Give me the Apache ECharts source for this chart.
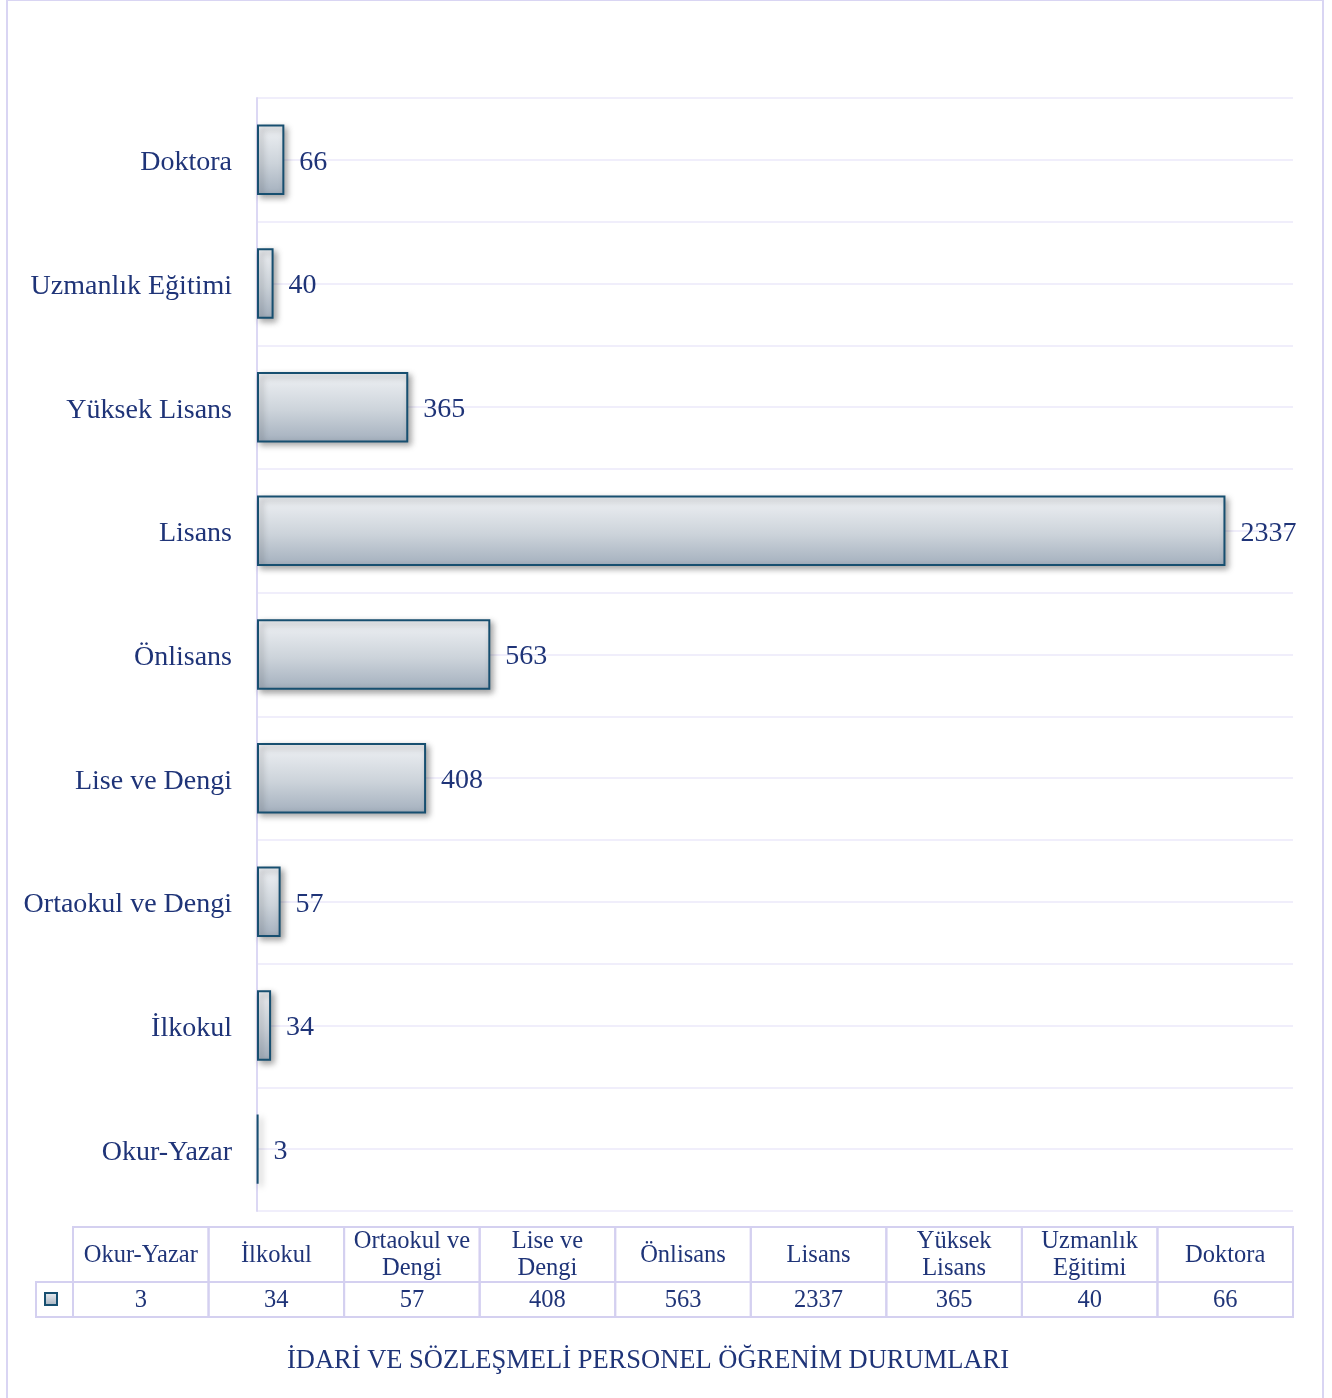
<!DOCTYPE html>
<html>
<head>
<meta charset="utf-8">
<script src="https://cdn.jsdelivr.net/npm/echarts@6/dist/echarts.min.js"></script>
<style>
html,body{margin:0;padding:0;background:#fff;}
#chart{width:1332px;height:1398px;}
</style>
</head>
<body>
<div id="chart"></div>
<script>
const categories = ['Okur-Yazar','İlkokul','Ortaokul ve Dengi','Lise ve Dengi','Önlisans','Lisans','Yüksek Lisans','Uzmanlık Eğitimi','Doktora'];
const values = [3,34,57,408,563,2337,365,40,66];
const tableHeaders = ['Okur-Yazar','İlkokul','Ortaokul ve\nDengi','Lise ve\nDengi','Önlisans','Lisans','Yüksek\nLisans','Uzmanlık\nEğitimi','Doktora'];
const titleText = 'İDARİ VE SÖZLEŞMELİ PERSONEL ÖĞRENİM DURUMLARI';

const FONT = '"Liberation Serif","Times New Roman",serif';
const TXT = '#1f3478';
const LAV = '#d4d0f0';
const GRID = '#ebe9fa';

const W = 1332, H = 1398;
const plot = {left:257, top:98, right:1293, bottom:1211};

const barFill = new echarts.graphic.LinearGradient(0,0,0,1,[
  {offset:0,color:'#f0f2f5'},
  {offset:0.55,color:'#ccd3da'},
  {offset:1,color:'#a3afbd'}
]);

// table
const tbl = {x0:73, x1:1293, keyX:36, y0:1227, y1:1282, y2:1317};
const colW = (tbl.x1 - tbl.x0) / categories.length;
const graphics = [];
graphics.push({type:'rect', shape:{x:7,y:0,width:1316,height:1402}, style:{fill:'none',stroke:'#d9d5f3',lineWidth:2}, silent:true});
categories.forEach((c,i)=>{
  const x = tbl.x0 + i*colW;
  graphics.push({type:'rect', shape:{x:x,y:tbl.y0,width:colW,height:tbl.y1-tbl.y0}, style:{fill:'none',stroke:LAV,lineWidth:2}, silent:true});
  graphics.push({type:'rect', shape:{x:x,y:tbl.y1,width:colW,height:tbl.y2-tbl.y1}, style:{fill:'none',stroke:LAV,lineWidth:2}, silent:true});
  graphics.push({type:'text', x:x+colW/2, y:(tbl.y0+tbl.y1)/2+1, style:{text:tableHeaders[i], font:'24.5px '+FONT, fill:TXT, align:'center', verticalAlign:'middle', lineHeight:27}, silent:true});
  graphics.push({type:'text', x:x+colW/2, y:(tbl.y1+tbl.y2)/2+1.5, style:{text:String(values[i]), font:'24.5px '+FONT, fill:TXT, align:'center', verticalAlign:'middle'}, silent:true});
});
graphics.push({type:'rect', shape:{x:tbl.keyX,y:tbl.y1,width:tbl.x0-tbl.keyX,height:tbl.y2-tbl.y1}, style:{fill:'none',stroke:LAV,lineWidth:2}, silent:true});
graphics.push({type:'rect', shape:{x:45,y:1293,width:12,height:12}, style:{fill:new echarts.graphic.LinearGradient(0,0,0,1,[{offset:0,color:'#eff1f4'},{offset:1,color:'#a3afbd'}]),stroke:'#174f70',lineWidth:2}, silent:true});
graphics.push({type:'text', x:648, y:1361, style:{text:titleText, font:'26.5px '+FONT, fill:TXT, align:'center', verticalAlign:'middle'}, silent:true});

const chart = echarts.init(document.getElementById('chart'), null, {renderer:'canvas', width:W, height:H});
chart.setOption({
  backgroundColor:'#fff',
  animation:false,
  grid:{left:plot.left, top:plot.top, width:plot.right-plot.left, height:plot.bottom-plot.top, containLabel:false},
  xAxis:{type:'value', min:0, max:2500, show:false},
  yAxis:[
    {type:'category', data:categories,
     axisLine:{show:true, lineStyle:{color:'#dcd8f4', width:2}},
     axisTick:{show:false},
     axisLabel:{margin:25, fontFamily:FONT, fontSize:28, color:TXT, verticalAlign:'top', lineHeight:6},
     splitLine:{show:false}},
    {type:'value', min:0, max:categories.length*2, interval:1, position:'right',
     axisLine:{show:false}, axisTick:{show:false}, axisLabel:{show:false},
     splitLine:{show:true, lineStyle:{color:GRID, width:1.5}}}
  ],
  series:[{
    type:'bar', yAxisIndex:0, data:values, barWidth:'57%',
    itemStyle:{color:barFill, borderColor:'#174f70', borderWidth:2,
      shadowColor:'rgba(0,0,0,0.35)', shadowBlur:6, shadowOffsetX:3, shadowOffsetY:3},
    label:{show:true, position:'right', distance:15, fontFamily:FONT, fontSize:28, color:TXT, offset:[0,2.5]},
    z:3
  }],
  graphic:graphics
});
</script>
</body>
</html>
